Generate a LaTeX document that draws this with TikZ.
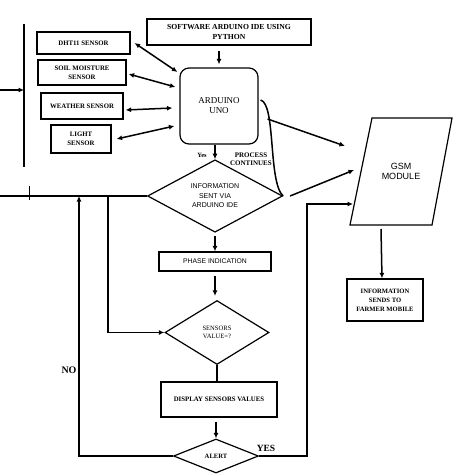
\documentclass[tikz,border=0pt]{standalone}
\usepackage{fontspec}
\setmainfont{Liberation Serif}
\setsansfont{Liberation Sans}
\usetikzlibrary{arrows.meta,shapes.geometric}

\tikzset{
  box/.style={draw, line width=1.2pt, align=center, inner sep=1pt,
    font=\fontsize{6.8}{9}\selectfont\bfseries},
  decision/.style={diamond, draw, line width=1.2pt, align=center, inner sep=0pt},
  arr/.style={line width=1.5pt, -{Latex[length=5.5pt,width=5pt]}},
  dbl/.style={line width=1.5pt, {Latex[length=5.5pt,width=5pt]}-{Latex[length=5.5pt,width=5pt]}},
  plain/.style={line width=1.5pt},
  tag/.style={font=\fontsize{7}{8}\selectfont\bfseries, align=center, inner sep=0pt}
}

\begin{document}
\begin{tikzpicture}[x=1pt,y=-1pt]
  \useasboundingbox (0,0) rectangle (474,474);
  \def\busx{24}
  \def\linky{196}

  % top row
  \node[box, minimum width=164, minimum height=26,
        font=\fontsize{7.7}{10}\selectfont\bfseries] (soft) at (229,32)
        {SOFTWARE ARDUINO IDE USING\\PYTHON};
  \node[box, draw, rounded corners=9pt, minimum width=78, minimum height=76,
        font=\fontsize{9}{10}\selectfont\mdseries] (arduino) at (219,106)
        {ARDUINO\\UNO};

  % sensors
  \node[box, minimum width=93, minimum height=22] (dht) at (83.5,43) {DHT11 SENSOR};
  \node[box, minimum width=88, minimum height=25] (soil) at (82,72.5) {SOIL MOISTURE\\SENSOR};
  \node[box, minimum width=82, minimum height=26] (weather) at (82,106) {WEATHER SENSOR};
  \node[box, minimum width=60, minimum height=28] (light) at (81,139) {LIGHT\\SENSOR};

  % bus on the left
  \coordinate (bustop) at (\busx,24);
  \coordinate (busend) at (\busx,167);
  \coordinate (busin) at (0,90);
  \draw[plain] (bustop) -- (busend);
  \draw[arr] (busin) -- (busin -| \busx,0);

  % main column
  \node[decision, minimum width=135, minimum height=70,
        font=\fontsize{7}{9.5}\selectfont\sffamily] (info) at (215,\linky)
        {INFORMATION\\SENT VIA\\ARDUINO IDE};
  \node[box, minimum width=112, minimum height=19,
        font=\fontsize{6.8}{8}\selectfont\sffamily] (phase) at (215,261.5) {PHASE INDICATION};
  \node[decision, minimum width=104, minimum height=64,
        font=\fontsize{6.6}{8}\selectfont] (sensors) at (217,332.5) {SENSORS\\VALUE=?};
  \node[box, minimum width=116, minimum height=35] (display) at (219,399.5) {DISPLAY SENSORS VALUES};
  \node[decision, minimum width=85, minimum height=34,
        font=\fontsize{6.6}{8}\selectfont\bfseries] (alert) at (216,456) {ALERT};

  % gsm side
  \coordinate (gsmtl) at (372,118);
  \coordinate (gsmtr) at (452,118);
  \coordinate (gsmbr) at (432,225);
  \coordinate (gsmbl) at (350,225);
  \draw[line width=1.2pt] (gsmtl) -- (gsmtr) -- (gsmbr) -- (gsmbl) -- cycle;
  \node[align=center, font=\fontsize{9}{10.5}\selectfont\sffamily] (gsm) at (401,171.5) {GSM\\MODULE};
  \coordinate (gsmin1) at (345,146);
  \coordinate (gsmin2) at (354,170);
  \coordinate (gsmin3) at (353,204);
  \coordinate (gsmout) at (381,229);
  \node[box, minimum width=76, minimum height=42,
        font=\fontsize{6.6}{9}\selectfont\bfseries] (farmer) at (385,300)
        {INFORMATION\\SENDS TO\\FARMER MOBILE};

  % sensors <-> arduino
  \draw[dbl] ([xshift=4pt]dht.east) -- ([shift={(-2pt,34pt)}]arduino.west);
  \draw[dbl] ([shift={(2pt,-1.5pt)}]soil.east) -- ([shift={(-4pt,19pt)}]arduino.west);
  \draw[dbl] ([shift={(2pt,-4pt)}]weather.east) -- ([shift={(-7pt,-2pt)}]arduino.west);
  \draw[dbl] ([xshift=5pt]light.east) -- ([shift={(-5pt,-20pt)}]arduino.west);

  \draw[arr] ([yshift=-5pt]soft.south -| arduino.north) -- ([yshift=3pt]arduino.north);
  \draw[arr] (arduino.south -| info.north) -- (info.north);
  \node[tag, font=\fontsize{6.5}{8}\selectfont\bfseries] (yes1) at (202,155) {Yes};
  \node[tag] (proc) at (251,159) {PROCESS\\CONTINUES};

  \draw[arr] ([shift={(9pt,-13pt)}]arduino.east) -- (gsmin1);
  \draw[plain] ([shift={(2pt,6pt)}]arduino.east) .. controls (276,104) and (268,182) .. (info.east);
  \draw[arr] ([xshift=7pt]info.east) -- (gsmin2);
  \draw[arr] (gsmout) -- ([xshift=-3pt]farmer.north);

  % left loop lines
  \coordinate (linkin) at (0,\linky);
  \coordinate (nojoin) at (79,\linky);
  \coordinate (sjoin) at (108,\linky);
  \draw[plain] (linkin) -- (info.west);
  \draw[line width=0.5pt] (29,186) -- (29,200);
  \draw[arr] (alert.west) -| (nojoin);
  \draw[arr] (sjoin) |- (sensors.west);
  \node[tag, font=\fontsize{10}{10}\selectfont\bfseries] (nolbl) at (69,370) {NO};

  % down the column
  \draw[arr] ([yshift=-3pt]info.south) -- (phase.north);
  \draw[arr] ([yshift=-4pt]phase.south) -- ([yshift=4pt]phase.south |- sensors.north);
  \draw[plain] (sensors.south) -- (sensors.south |- display.north);
  \draw[arr] ([yshift=-4pt]display.south -| alert.north) -- (alert.north);

  % yes branch to gsm
  \draw[arr] (alert.east) -| ([xshift=-46pt]gsmin3) -- (gsmin3);
  \node[tag, font=\fontsize{9.5}{10}\selectfont\bfseries] (yeslbl) at (266,448) {YES};
\end{tikzpicture}
\end{document}
